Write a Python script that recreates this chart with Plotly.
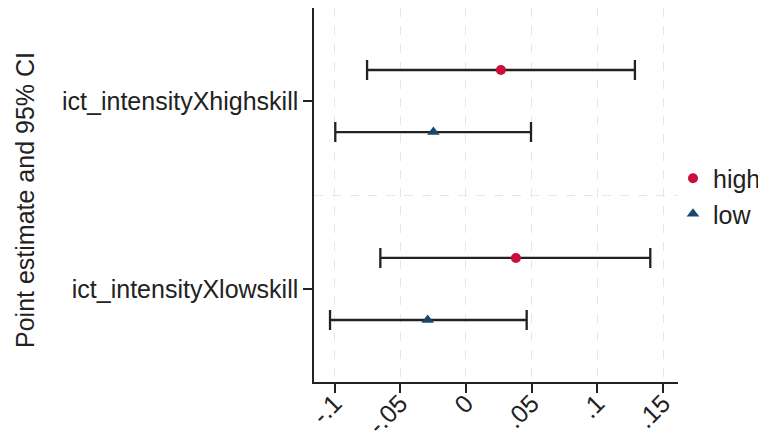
import plotly.graph_objects as go

# ---- data ----
categories = ["ict_intensityXhighskill", "ict_intensityXlowskill"]
groups = ["high", "low"]
estimates = {"high": [0.0266, 0.0380], "low": [-0.0248, -0.0292]}
ci_lower = {"high": [-0.0753, -0.0652], "low": [-0.0995, -0.1035]}
ci_upper = {"high": [0.1286, 0.1403], "low": [0.0495, 0.0462]}
x_tickvals = [-0.1, -0.05, 0, 0.05, 0.1, 0.15]
x_ticktext = ["-.1", "-.05", "0", ".05", ".1", ".15"]

# ---- style ----
colors = {"high": "#CC0C39", "low": "#1A476F"}
symbols = {"high": "circle", "low": "triangle-up"}
sizes = {"high": 10, "low": 11}
offsets = {"high": 0.165, "low": -0.165}
FONT = "Liberation Sans, Arial, sans-serif"
FS = 25

n = len(categories)
cat_pos = [n - i for i in range(n)]  # first category at top

fig = go.Figure()
for g in groups:
    ys = [p + offsets[g] for p in cat_pos]
    est = estimates[g]
    plus = [u - e for u, e in zip(ci_upper[g], est)]
    minus = [e - l for e, l in zip(est, ci_lower[g])]
    fig.add_trace(go.Scatter(
        x=est, y=ys, mode="markers", name=g,
        marker=dict(color=colors[g], symbol=symbols[g], size=sizes[g], line=dict(width=0)),
        error_x=dict(type="data", symmetric=False, array=plus, arrayminus=minus,
                     color="#222222", thickness=2.3, width=10),
    ))

# page has an 8px body margin; figure sized to fill the rest of the window
OFF = 8
W, H = 766 - OFF, 432 - OFF
L, R, T, B = 314 - OFF, 766 - 678, 8 - OFF, 432 - 382
pw = W - L - R
ph = H - T - B

fig.update_layout(
    template="none",
    width=W, height=H,
    margin=dict(l=L, r=R, t=T, b=B, autoexpand=False, pad=0),
    paper_bgcolor="white", plot_bgcolor="white",
    font=dict(family=FONT, size=FS, color="#222222"),
    showlegend=True,
    legend=dict(xref="container", yref="container", x=1.0, y=1 - (196 - OFF) / H,
                xanchor="right", yanchor="middle",
                font=dict(size=FS, color="#222222"), tracegroupgap=0,
                itemwidth=30, bgcolor="rgba(0,0,0,0)", borderwidth=0),
    xaxis=dict(
        range=[-0.1157, 0.1614], tickmode="array", tickvals=x_tickvals, ticktext=x_ticktext,
        tickangle=-45, ticks="outside", ticklen=9, tickwidth=1.5, tickcolor="#222222",
        showline=True, linecolor="#222222", linewidth=1.5, zeroline=False,
        showgrid=True, gridcolor="#E6E6E6", griddash="dash", gridwidth=1,
        tickfont=dict(size=FS), automargin=False, ticklabelstandoff=-14,
    ),
    yaxis=dict(
        range=[0.505, 2.495], tickmode="array", tickvals=cat_pos, ticktext=categories,
        ticks="outside", ticklen=9, tickwidth=1.5, tickcolor="#222222",
        showline=True, linecolor="#222222", linewidth=1.5, zeroline=False,
        showgrid=False,
        minor=dict(tickvals=[1.5], showgrid=True, gridcolor="#E6E6E6", griddash="dash", ticklen=0),
        tickfont=dict(size=FS), automargin=False,
    ),
    annotations=[dict(
        text="Point estimate and 95% CI", textangle=-90,
        xref="paper", yref="paper", x=(25 - 314) / pw, y=1 - (200 - 8) / ph,
        xanchor="center", yanchor="middle", showarrow=False,
        font=dict(size=FS, color="#222222"),
    )],
)

fig.write_html("out.html")
